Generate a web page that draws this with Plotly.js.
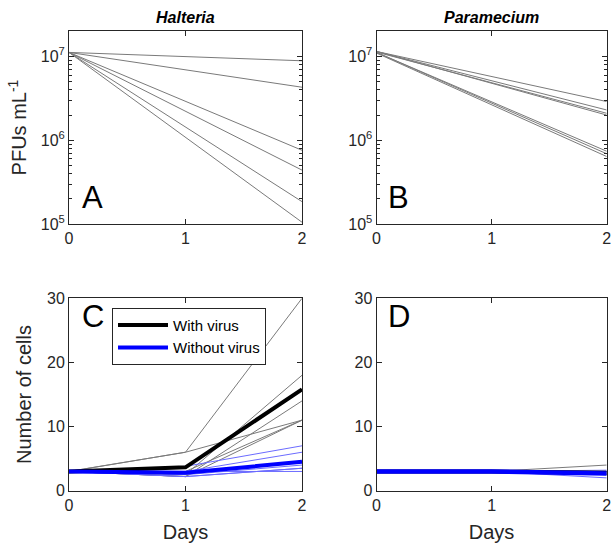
<!DOCTYPE html>
<html>
<head>
<meta charset="utf-8">
<script src="https://cdn.plot.ly/plotly-3.0.1.min.js"></script>
<style>html,body{margin:0;padding:0;background:#fff}#chart{width:612px;height:548px}</style>
</head>
<body>
<div id="chart"></div>
<script>
// ---- data ----
const pfuDays = [0, 2];
const halteriaPFU = [
  [1.12e7, 8.9e6],
  [1.12e7, 4.3e6],
  [1.12e7, 7.6e5],
  [1.12e7, 4.4e5],
  [1.12e7, 1.85e5],
  [1.12e7, 1.05e5]
];
const parameciumPFU = [
  [1.15e7, 2.9e6],
  [1.15e7, 2.3e6],
  [1.13e7, 2.1e6],
  [1.15e7, 2.0e6],
  [1.12e7, 7.4e5],
  [1.12e7, 6.9e5],
  [1.10e7, 6.4e5]
];
const cellDays = [0, 1, 2];
const halteriaWithVirus = [
  [3, 6, 30],
  [3, 6, 11],
  [3, 2.5, 18],
  [3, 2.2, 14],
  [3, 2.2, 11],
  [3, 3, 11]
];
const halteriaWithoutVirus = [
  [3, 3.8, 7],
  [3, 3, 6],
  [3, 2.5, 4],
  [3, 2.2, 3.5],
  [3, 3, 3],
  [3, 2.2, 3.5]
];
const halteriaMeanWith = [3, 3.65, 15.8];
const halteriaMeanWithout = [3, 2.8, 4.5];
const parameciumWithVirus = [
  [3, 3, 4],
  [3, 3, 3],
  [3, 3, 2.5],
  [3, 3, 3]
];
const parameciumWithoutVirus = [
  [3, 3, 2],
  [3, 3, 2.5],
  [3, 3, 3],
  [3, 3, 3.2]
];
const parameciumMeanWith = [3, 3, 2.8];
const parameciumMeanWithout = [3, 3, 2.7];
const panelTitles = ['Halteria', 'Paramecium'];
const panelLetters = ['A', 'B', 'C', 'D'];
const legendNames = ['With virus', 'Without virus'];
const logTickVals = [1e5, 1e6, 1e7];
const logTickText = ['10<sup>5</sup>', '10<sup>6</sup>', '10<sup>7</sup>'];

// ---- styling ----
const GREY = '#7a7a7a';
const LIGHTBLUE = '#6b6bff';
const AX = '#262626';
const FONT = 'Liberation Sans, Arial, sans-serif';

const traces = [];
function thin(x, ys, color, xa, ya) {
  ys.forEach(y => traces.push({x: x, y: y, mode: 'lines', type: 'scatter', xaxis: xa, yaxis: ya,
    line: {color: color, width: 1}, showlegend: false, hoverinfo: 'skip'}));
}
thin(pfuDays, halteriaPFU, GREY, 'x', 'y');
thin(pfuDays, parameciumPFU, GREY, 'x2', 'y2');
thin(cellDays, halteriaWithVirus, GREY, 'x3', 'y3');
thin(cellDays, halteriaWithoutVirus, LIGHTBLUE, 'x3', 'y3');
thin(cellDays, parameciumWithVirus, GREY, 'x4', 'y4');
thin(cellDays, parameciumWithoutVirus, LIGHTBLUE, 'x4', 'y4');
traces.push({x: cellDays, y: halteriaMeanWith, mode: 'lines', xaxis: 'x3', yaxis: 'y3', name: legendNames[0],
  line: {color: '#000000', width: 4}, showlegend: true});
traces.push({x: cellDays, y: halteriaMeanWithout, mode: 'lines', xaxis: 'x3', yaxis: 'y3', name: legendNames[1],
  line: {color: '#0000ff', width: 4}, showlegend: true});
traces.push({x: cellDays, y: parameciumMeanWith, mode: 'lines', xaxis: 'x4', yaxis: 'y4',
  line: {color: '#000000', width: 4}, showlegend: false});
traces.push({x: cellDays, y: parameciumMeanWithout, mode: 'lines', xaxis: 'x4', yaxis: 'y4',
  line: {color: '#0000ff', width: 4.5}, showlegend: false});

const W = 612, H = 548;
const colL = [69 / W, 302 / W], colR = [376.5 / W, 606.7 / W];
const rowT = [1 - 224 / H, 1 - 31 / H], rowB = [1 - 490.7 / H, 1 - 298.3 / H];

const minorVals = [];
[1e5, 1e6, 1e7].forEach(d => { for (let k = 2; k <= 9; k++) minorVals.push(k * d); });

const tickFont = {size: 16, color: AX, family: FONT};
const titleFont = {size: 20, color: AX, family: FONT};

function base(domain, anchor) {
  return {domain: domain, anchor: anchor, ticks: 'inside', ticklen: 5, tickcolor: AX, showline: true,
    linecolor: AX, linewidth: 1, mirror: 'ticks', showgrid: false, zeroline: false, tickfont: tickFont};
}
function xax(domain, anchor, showTitle) {
  const a = Object.assign(base(domain, anchor), {range: [0, 2], tickvals: [0, 1, 2], ticktext: ['0', '1', '2']});
  if (showTitle) a.title = {text: 'Days', font: titleFont, standoff: 12};
  return a;
}
function logax(domain, anchor, title) {
  const a = Object.assign(base(domain, anchor), {type: 'log', range: [5, 7.305], tickvals: logTickVals,
    ticktext: logTickText, minor: {tickvals: minorVals, ticks: 'inside', ticklen: 3, tickcolor: AX}});
  if (title) a.title = {text: title, font: titleFont, standoff: 8};
  return a;
}
function linax(domain, anchor, title) {
  const a = Object.assign(base(domain, anchor), {range: [0, 30], tickvals: [0, 10, 20, 30]});
  if (title) a.title = {text: title, font: titleFont, standoff: 10};
  return a;
}

const annotations = [];
panelTitles.forEach((t, i) => {
  const d = i === 0 ? colL : colR;
  annotations.push({text: '<b><i>' + t + '</i></b>', xref: 'paper', yref: 'paper', x: (d[0] + d[1]) / 2,
    y: 1 - 17 / H, xanchor: 'center', yanchor: 'middle', showarrow: false, font: {size: 16, color: '#000', family: FONT}});
});
const letterPos = [[80, 197], [386, 197], [80, 316], [386, 316]];
panelLetters.forEach((l, i) => {
  annotations.push({text: l, xref: 'paper', yref: 'paper', x: letterPos[i][0] / W, y: 1 - letterPos[i][1] / H,
    xanchor: 'left', yanchor: 'middle', showarrow: false, font: {size: 31, color: '#000', family: FONT}});
});

const layout = {
  width: W, height: H, margin: {l: 0, r: 0, t: 0, b: 0}, paper_bgcolor: '#fff', plot_bgcolor: '#fff',
  font: {family: FONT, color: AX},
  xaxis: xax(colL, 'y', false), yaxis: logax(rowT, 'x', 'PFUs mL<sup>-1</sup>'),
  xaxis2: xax(colR, 'y2', false), yaxis2: logax(rowT, 'x2', null),
  xaxis3: xax(colL, 'y3', true), yaxis3: linax(rowB, 'x3', 'Number of cells'),
  xaxis4: xax(colR, 'y4', true), yaxis4: linax(rowB, 'x4', null),
  showlegend: true,
  legend: {x: 112 / W, y: 1 - 307.7 / H, xanchor: 'left', yanchor: 'top', bgcolor: '#fff', bordercolor: AX,
    borderwidth: 1, font: {size: 15, color: '#000', family: FONT}, tracegroupgap: 0, itemwidth: 50,
    tracegroupgap: 0},
  annotations: annotations
};
Plotly.newPlot('chart', traces, layout, {staticPlot: true});
</script>
</body>
</html>
